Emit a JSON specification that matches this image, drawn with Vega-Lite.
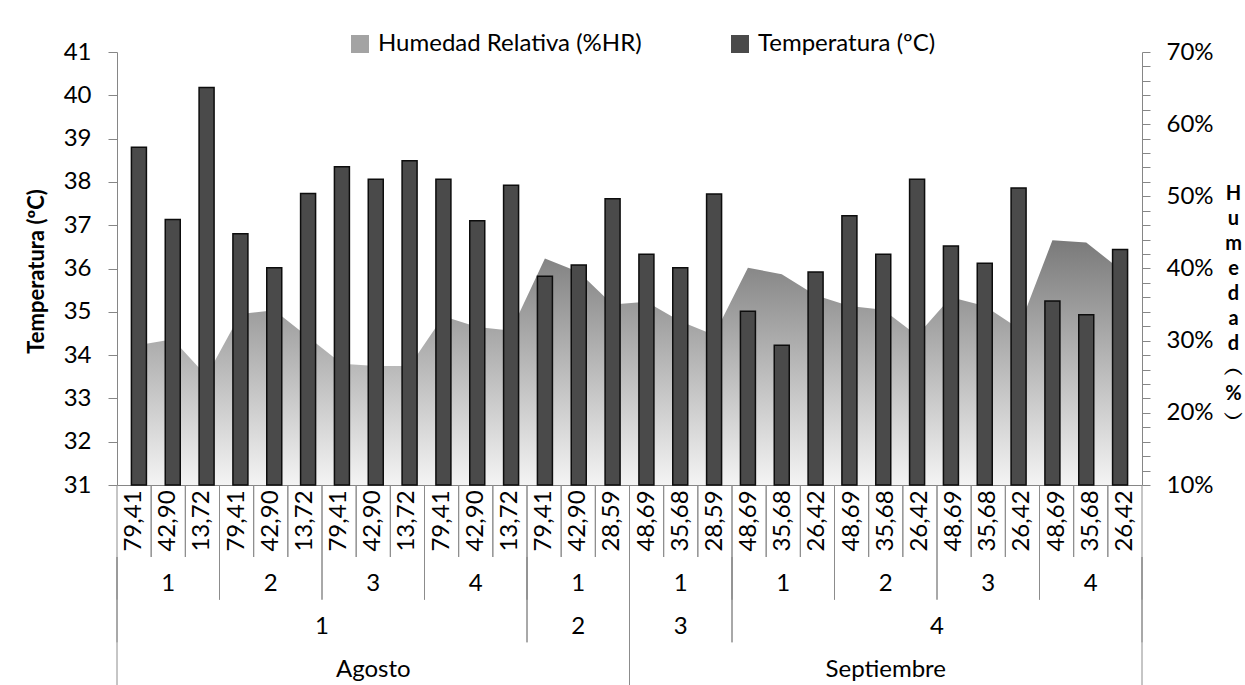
{
  "$schema": "https://vega.github.io/schema/vega-lite/v6.json",
  "autosize": {"type": "pad"},
  "padding": {"left": 25, "top": 32, "right": 0, "bottom": 0},
  "background": "#ffffff",
  "config": {
    "font": "Lato",
    "view": {"stroke": null},
    "text": {"font": "Lato"}
  },
  "datasets": {
    "semanas": [
      {"n": 1, "valor": "79,41", "temperatura": 38.80, "humedad": 0.294},
      {"n": 2, "valor": "42,90", "temperatura": 37.13, "humedad": 0.302},
      {"n": 3, "valor": "13,72", "temperatura": 40.18, "humedad": 0.251},
      {"n": 4, "valor": "79,41", "temperatura": 36.80, "humedad": 0.337},
      {"n": 5, "valor": "42,90", "temperatura": 36.02, "humedad": 0.342},
      {"n": 6, "valor": "13,72", "temperatura": 37.73, "humedad": 0.305},
      {"n": 7, "valor": "79,41", "temperatura": 38.35, "humedad": 0.268},
      {"n": 8, "valor": "42,90", "temperatura": 38.06, "humedad": 0.265},
      {"n": 9, "valor": "13,72", "temperatura": 38.49, "humedad": 0.265},
      {"n": 10, "valor": "79,41", "temperatura": 38.06, "humedad": 0.334},
      {"n": 11, "valor": "42,90", "temperatura": 37.10, "humedad": 0.319},
      {"n": 12, "valor": "13,72", "temperatura": 37.92, "humedad": 0.314},
      {"n": 13, "valor": "79,41", "temperatura": 35.82, "humedad": 0.414},
      {"n": 14, "valor": "42,90", "temperatura": 36.08, "humedad": 0.395},
      {"n": 15, "valor": "28,59", "temperatura": 37.61, "humedad": 0.350},
      {"n": 16, "valor": "48,69", "temperatura": 36.33, "humedad": 0.354},
      {"n": 17, "valor": "35,68", "temperatura": 36.02, "humedad": 0.327},
      {"n": 18, "valor": "28,59", "temperatura": 37.72, "humedad": 0.308},
      {"n": 19, "valor": "48,69", "temperatura": 35.01, "humedad": 0.401},
      {"n": 20, "valor": "35,68", "temperatura": 34.23, "humedad": 0.392},
      {"n": 21, "valor": "26,42", "temperatura": 35.92, "humedad": 0.363},
      {"n": 22, "valor": "48,69", "temperatura": 37.22, "humedad": 0.348},
      {"n": 23, "valor": "35,68", "temperatura": 36.33, "humedad": 0.343},
      {"n": 24, "valor": "26,42", "temperatura": 38.06, "humedad": 0.307},
      {"n": 25, "valor": "48,69", "temperatura": 36.52, "humedad": 0.360},
      {"n": 26, "valor": "35,68", "temperatura": 36.12, "humedad": 0.348},
      {"n": 27, "valor": "26,42", "temperatura": 37.86, "humedad": 0.317},
      {"n": 28, "valor": "48,69", "temperatura": 35.25, "humedad": 0.439},
      {"n": 29, "valor": "35,68", "temperatura": 34.93, "humedad": 0.436},
      {"n": 30, "valor": "26,42", "temperatura": 36.44, "humedad": 0.399}
    ],
    "grupos": [
      {"nivel": 2, "etiqueta": "1", "desde": 1, "hasta": 3},
      {"nivel": 2, "etiqueta": "2", "desde": 4, "hasta": 6},
      {"nivel": 2, "etiqueta": "3", "desde": 7, "hasta": 9},
      {"nivel": 2, "etiqueta": "4", "desde": 10, "hasta": 12},
      {"nivel": 2, "etiqueta": "1", "desde": 13, "hasta": 15},
      {"nivel": 2, "etiqueta": "1", "desde": 16, "hasta": 18},
      {"nivel": 2, "etiqueta": "1", "desde": 19, "hasta": 21},
      {"nivel": 2, "etiqueta": "2", "desde": 22, "hasta": 24},
      {"nivel": 2, "etiqueta": "3", "desde": 25, "hasta": 27},
      {"nivel": 2, "etiqueta": "4", "desde": 28, "hasta": 30},
      {"nivel": 3, "etiqueta": "1", "desde": 1, "hasta": 12},
      {"nivel": 3, "etiqueta": "2", "desde": 13, "hasta": 15},
      {"nivel": 3, "etiqueta": "3", "desde": 16, "hasta": 18},
      {"nivel": 3, "etiqueta": "4", "desde": 19, "hasta": 30},
      {"nivel": 4, "etiqueta": "Agosto", "desde": 1, "hasta": 15},
      {"nivel": 4, "etiqueta": "Septiembre", "desde": 16, "hasta": 30}
    ]
  },
  "spacing": 0,
  "bounds": "flush",
  "resolve": {"legend": {"color": "independent"}},
  "vconcat": [
    {
      "width": 1025,
      "height": 433,
      "data": {"name": "semanas"},
      "resolve": {"scale": {"y": "independent"}},
      "layer": [
        {
          "mark": {
            "type": "area",
            "interpolate": "linear",
            "fill": {
              "gradient": "linear",
              "x1": 0, "y1": 0, "x2": 0, "y2": 1,
              "stops": [
                {"offset": 0, "color": "#7a7a7a"},
                {"offset": 1, "color": "#f4f4f4"}
              ]
            }
          },
          "encoding": {
            "x": {
              "field": "n", "type": "quantitative",
              "scale": {"domain": [0.5, 30.5], "nice": false, "zero": false},
              "axis": {"title": null, "labels": false, "ticks": false, "grid": false, "domain": true, "domainColor": "#868686", "domainWidth": 1}
            },
            "y": {
              "field": "humedad", "type": "quantitative",
              "scale": {"domain": [0.1, 0.7], "nice": false, "zero": false},
              "axis": {
                "orient": "right",
                "values": [0.1, 0.12, 0.14, 0.16, 0.18, 0.2, 0.22, 0.24, 0.26, 0.28, 0.3, 0.32, 0.34, 0.36, 0.38, 0.4, 0.42, 0.44, 0.46, 0.48, 0.5, 0.52, 0.54, 0.56, 0.58, 0.6, 0.62, 0.64, 0.66, 0.68, 0.7],
                "labelExpr": "round(datum.value * 100) % 10 === 0 ? format(datum.value, '.0%') : ''",
                "grid": false,
                "domainColor": "#868686",
                "tickColor": "#868686",
                "tickSize": 8,
                "labelPadding": 16,
                "labelFont": "Lato",
                "labelFontSize": 24,
                "labelColor": "#000000",
                "labelFlush": false,
                "labelOverlap": false,
                "title": ["H", "u", "m", "e", "d", "a", "d", "︵", "%", "︶"],
                "titleFont": "Lato",
                "titleFontSize": 20,
                "titleFontWeight": "bold",
                "titleColor": "#000000",
                "titleAngle": 0,
                "titleAlign": "center",
                "titleBaseline": "middle",
                "titleLineHeight": 25,
                "titleX": 91,
                "titleY": 141
              }
            },
            "y2": {"datum": 0.1}
          }
        },
        {
          "mark": {"type": "bar", "width": 15, "stroke": "#0d0d0d", "strokeWidth": 1.5},
          "encoding": {
            "x": {
              "field": "n", "type": "quantitative",
              "scale": {"domain": [0.5, 30.5], "nice": false, "zero": false},
              "axis": {"title": null, "labels": false, "ticks": false, "grid": false, "domain": true, "domainColor": "#868686", "domainWidth": 1}
            },
            "y": {
              "field": "temperatura", "type": "quantitative",
              "scale": {"domain": [31, 41], "nice": false, "zero": false},
              "axis": {
                "orient": "left",
                "values": [31, 32, 33, 34, 35, 36, 37, 38, 39, 40, 41],
                "format": "d",
                "grid": false,
                "domainColor": "#868686",
                "tickColor": "#868686",
                "tickSize": 9,
                "labelPadding": 17,
                "labelFont": "Lato",
                "labelFontSize": 24,
                "labelColor": "#000000",
                "labelFlush": false,
                "labelOverlap": false,
                "title": "Temperatura (ºC)",
                "titleFont": "Lato",
                "titleFontSize": 22,
                "titleFontWeight": "bold",
                "titleColor": "#000000",
                "titleAngle": 270,
                "titleAlign": "center",
                "titleBaseline": "middle",
                "titleX": -81,
                "titleY": 219
              }
            },
            "y2": {"datum": 31},
            "color": {
              "datum": "Temperatura (ºC)",
              "type": "nominal",
              "scale": {
                "domain": ["Humedad Relativa (%HR)", "Temperatura (ºC)"],
                "range": ["#a3a3a3", "#4a4a4a"]
              },
              "legend": {
                "orient": "none",
                "legendX": 231,
                "legendY": -20,
                "direction": "horizontal",
                "title": null,
                "padding": 0,
                "symbolType": "square",
                "symbolSize": 324,
                "symbolStrokeWidth": 0,
                "labelFont": "Lato",
                "labelFontSize": 24,
                "labelColor": "#000000",
                "labelOffset": 6,
                "labelLimit": 500,
                "columnPadding": 86
              }
            }
          }
        }
      ]
    },
    {
      "width": 1025,
      "height": 72,
      "data": {"name": "semanas"},
      "transform": [
        {"calculate": "datum.n - 0.5", "as": "izq"},
        {"calculate": "datum.n + 0.5", "as": "der"}
      ],
      "layer": [
        {
          "mark": {"type": "rule", "color": "#8c8c8c", "strokeWidth": 1},
          "encoding": {
            "x": {"field": "izq", "type": "quantitative", "scale": {"domain": [0.5, 30.5], "nice": false, "zero": false}, "axis": null}
          }
        },
        {
          "mark": {"type": "rule", "color": "#8c8c8c", "strokeWidth": 1},
          "encoding": {
            "x": {"field": "der", "type": "quantitative", "scale": {"domain": [0.5, 30.5], "nice": false, "zero": false}, "axis": null}
          }
        },
        {
          "mark": {"type": "text", "angle": 270, "align": "center", "baseline": "middle", "font": "Lato", "fontSize": 24, "color": "#000000"},
          "encoding": {
            "x": {"field": "n", "type": "quantitative", "scale": {"domain": [0.5, 30.5], "nice": false, "zero": false}, "axis": null},
            "text": {"field": "valor", "type": "nominal"}
          }
        }
      ]
    },
    {
      "width": 1025,
      "height": 128,
      "data": {"name": "grupos"},
      "transform": [
        {"calculate": "(datum.desde + datum.hasta) / 2", "as": "centro"},
        {"calculate": "datum.desde - 0.5", "as": "izq"},
        {"calculate": "datum.hasta + 0.5", "as": "der"},
        {"calculate": "datum.nivel + 0.5", "as": "fondo"}
      ],
      "layer": [
        {
          "mark": {"type": "rule", "color": "#8c8c8c", "strokeWidth": 1},
          "encoding": {
            "x": {"field": "izq", "type": "quantitative", "scale": {"domain": [0.5, 30.5], "nice": false, "zero": false}, "axis": null},
            "y": {"field": "fondo", "type": "quantitative", "scale": {"domain": [1.5, 4.5], "reverse": true, "nice": false, "zero": false}, "axis": null},
            "y2": {"datum": 1.5}
          }
        },
        {
          "mark": {"type": "rule", "color": "#8c8c8c", "strokeWidth": 1},
          "encoding": {
            "x": {"field": "der", "type": "quantitative", "scale": {"domain": [0.5, 30.5], "nice": false, "zero": false}, "axis": null},
            "y": {"field": "fondo", "type": "quantitative", "scale": {"domain": [1.5, 4.5], "reverse": true, "nice": false, "zero": false}, "axis": null},
            "y2": {"datum": 1.5}
          }
        },
        {
          "mark": {"type": "text", "align": "center", "baseline": "middle", "dy": 6, "font": "Lato", "fontSize": 24, "color": "#000000"},
          "encoding": {
            "x": {"field": "centro", "type": "quantitative", "scale": {"domain": [0.5, 30.5], "nice": false, "zero": false}, "axis": null},
            "y": {"field": "nivel", "type": "quantitative", "scale": {"domain": [1.5, 4.5], "reverse": true, "nice": false, "zero": false}, "axis": null},
            "text": {"field": "etiqueta", "type": "nominal"}
          }
        }
      ]
    }
  ]
}
